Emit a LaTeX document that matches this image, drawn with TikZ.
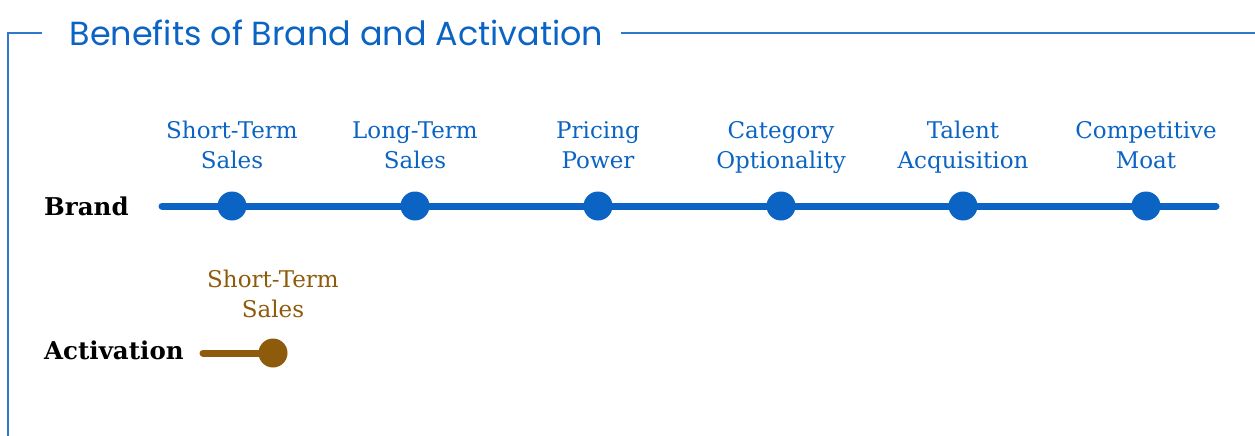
\documentclass[tikz,border=0pt]{standalone}
\usepackage{fontspec}
\newfontfamily\titlefont{Poppins}
\newfontfamily\slabfont{DejaVu Serif}
\definecolor{bblue}{HTML}{0B64C3}
\definecolor{fblue}{HTML}{2F78D0}
\definecolor{bbrown}{HTML}{8E5A0B}
\tikzset{
  framel/.style={draw=fblue, line width=2pt},
  benefit/.style={align=center, text=bblue, font=\slabfont\fontsize{23}{30}\selectfont, inner sep=0pt},
  actbenefit/.style={benefit, text=bbrown},
  rowlabel/.style={anchor=west, font=\slabfont\bfseries\fontsize{24.5}{28}\selectfont, text=black, inner sep=0pt},
  bdot/.style={circle, fill=bblue, minimum size=29pt, inner sep=0pt},
  adot/.style={circle, fill=bbrown, minimum size=29pt, inner sep=0pt},
  bline/.style={draw=bblue, line width=7pt, line cap=round},
  aline/.style={draw=bbrown, line width=7pt, line cap=round}
}
\begin{document}
\begin{tikzpicture}[x=1pt,y=-1pt]
\useasboundingbox (0,0) rectangle (1255,436);
% frame
\node[text=bblue, font=\titlefont\fontsize{33.4}{38}\selectfont, inner sep=0pt] (title) at (336.5,33) {Benefits of Brand and Activation};
\coordinate (fb) at (8,436);
\coordinate (fc) at (8,33.5);
\coordinate (fl) at (42,33.5);
\coordinate (fr) at (621,33.5);
\coordinate (fe) at (1255,33.5);
\draw[framel] (fb) -- (fc) -- (fl);
\draw[framel] (fr) -- (fe);
% brand row
\node[rowlabel] (brand) at (44,206) {Brand};
\coordinate (bs) at (162,206);
\coordinate (be) at (1216,206);
\draw[bline] (bs) -- (be);
\foreach \i/\x/\t in {1/232/{Short-Term\strut\\Sales\strut},2/415/{Long-Term\strut\\Sales\strut},3/598/{Pricing\strut\\Power\strut},4/781/{Category\strut\\Optionality\strut},5/963/{Talent\strut\\Acquisition\strut},6/1146/{Competitive\strut\\Moat\strut}}{
  \node[bdot] (d\i) at (\x,206) {};
  \node[benefit] (l\i) at (\x,147.5) {\t};
}
% activation row
\node[rowlabel] (act) at (44,350) {Activation};
\coordinate (as) at (203,353);
\node[adot] (ad) at (273,353) {};
\draw[aline] (as) -- (ad.center);
\node[actbenefit] (al) at (273,296) {Short-Term\strut\\Sales\strut};
\end{tikzpicture}
\end{document}
